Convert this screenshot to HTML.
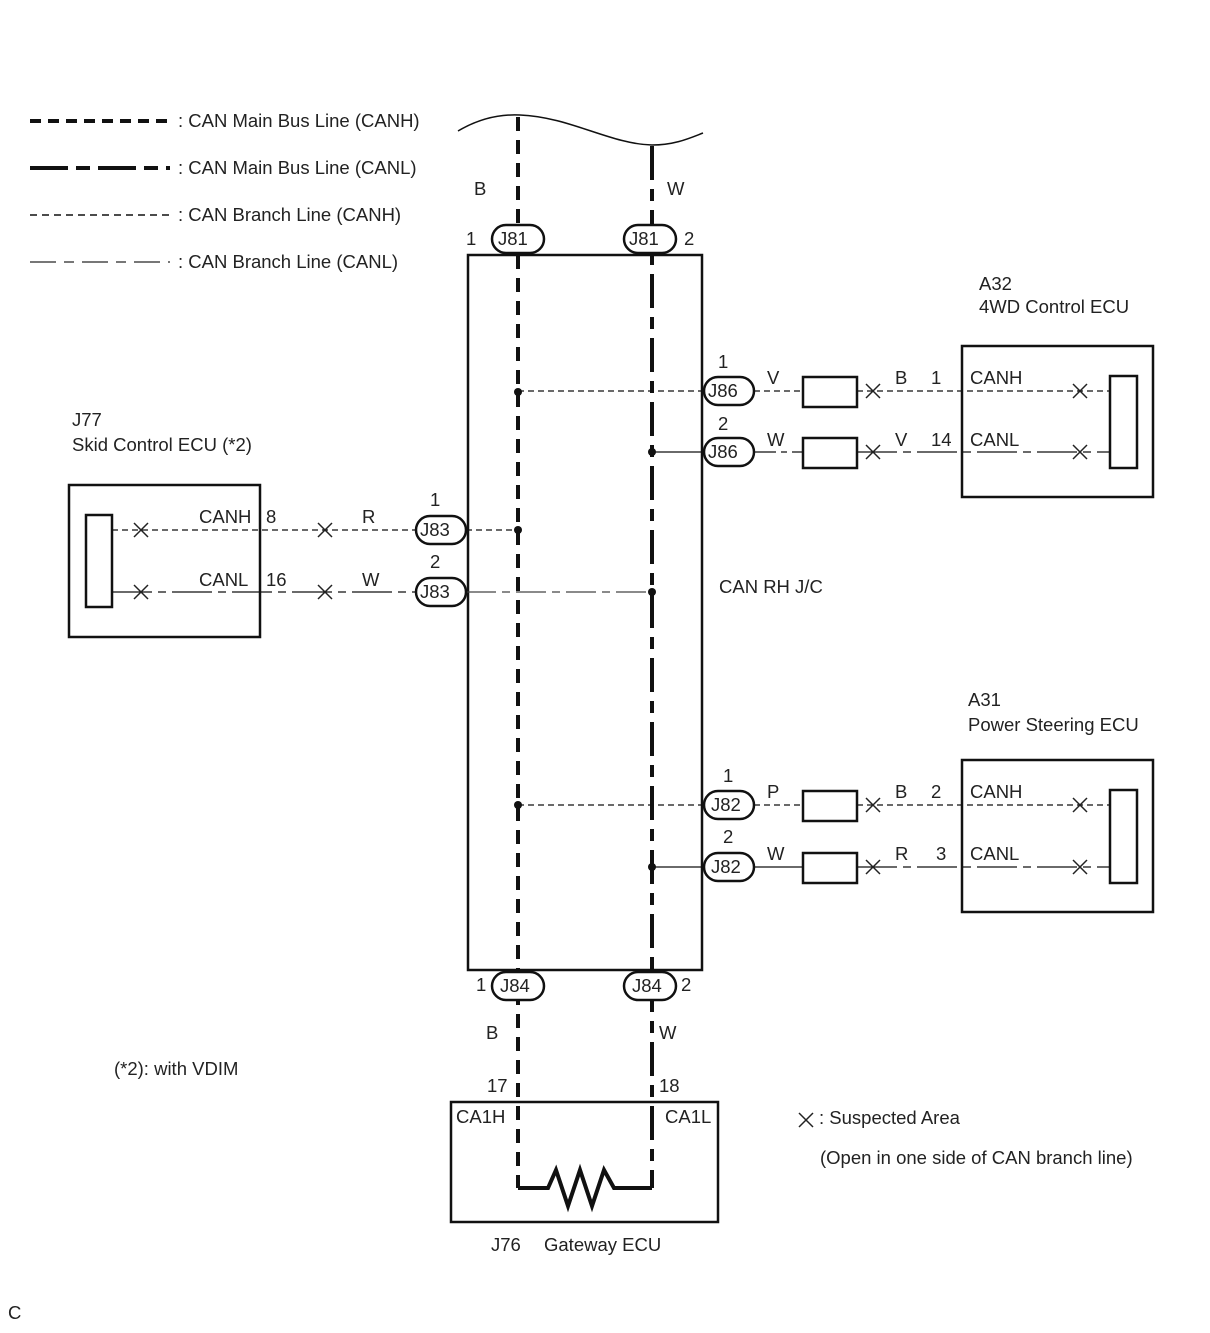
<!DOCTYPE html>
<html><head><meta charset="utf-8"><style>
html,body{margin:0;padding:0;background:#fff}
svg text{font-family:"Liberation Sans",Arial,sans-serif;font-size:18.5px;fill:#222}
</style></head><body>
<svg width="1210" height="1328" viewBox="0 0 1210 1328" xmlns="http://www.w3.org/2000/svg">
<defs>
<g id="x"><path d="M-7,-7L7,7M-7,7L7,-7" stroke="#222" stroke-width="1.5"/></g>
</defs>
<g stroke="#111" fill="none">
<line x1="30" y1="121" x2="170" y2="121" stroke-width="4" stroke-dasharray="11,7"/>
<line x1="30" y1="168" x2="170" y2="168" stroke-width="4" stroke-dasharray="38,8,14,8"/>
<line x1="30" y1="215" x2="170" y2="215" stroke-width="1.5" stroke-dasharray="7,5"/>
<line x1="30" y1="262" x2="170" y2="262" stroke-width="2" stroke="#777" stroke-dasharray="26,8,10,8"/>
<path d="M458,131 C480,118 500,114 520,115 C570,117 610,144 652,145 C675,145 690,138 703,133" stroke-width="1.5"/>
<line x1="518" y1="117" x2="518" y2="1188" stroke-width="4" stroke-dasharray="14,9"/>
<line x1="652" y1="146" x2="652" y2="1188" stroke-width="4" stroke-dasharray="34,9,12,9"/>
<rect x="468" y="255" width="234" height="715" stroke-width="2.5"/>
<line x1="518" y1="391" x2="704" y2="391" stroke-width="1.3" stroke-dasharray="6,4"/>
<line x1="652" y1="452" x2="704" y2="452" stroke-width="1.3"/>
<line x1="754" y1="391" x2="803" y2="391" stroke-width="1.3" stroke-dasharray="6,4"/>
<line x1="754" y1="452" x2="803" y2="452" stroke-width="1.3" stroke-dasharray="22,5,6,5"/>
<rect x="803" y="377" width="54" height="30" stroke-width="2.5"/>
<rect x="803" y="438" width="54" height="30" stroke-width="2.5"/>
<line x1="857" y1="391" x2="1110" y2="391" stroke-width="1.3" stroke-dasharray="6,4"/>
<line x1="857" y1="452" x2="1110" y2="452" stroke-width="1.3" stroke-dasharray="40,6,8,6"/>
<rect x="962" y="346" width="191" height="151" stroke-width="2.5"/>
<rect x="1110" y="376" width="27" height="92" stroke-width="2.5"/>
<line x1="518" y1="805" x2="704" y2="805" stroke-width="1.3" stroke-dasharray="6,4"/>
<line x1="652" y1="867" x2="704" y2="867" stroke-width="1.3"/>
<line x1="754" y1="805" x2="803" y2="805" stroke-width="1.3" stroke-dasharray="6,4"/>
<line x1="754" y1="867" x2="803" y2="867" stroke-width="1.3"/>
<rect x="803" y="791" width="54" height="30" stroke-width="2.5"/>
<rect x="803" y="853" width="54" height="30" stroke-width="2.5"/>
<line x1="857" y1="805" x2="1110" y2="805" stroke-width="1.3" stroke-dasharray="6,4"/>
<line x1="857" y1="867" x2="1110" y2="867" stroke-width="1.3" stroke-dasharray="40,6,8,6"/>
<rect x="962" y="760" width="191" height="152" stroke-width="2.5"/>
<rect x="1110" y="790" width="27" height="93" stroke-width="2.5"/>
<line x1="466" y1="530" x2="518" y2="530" stroke-width="1.3" stroke-dasharray="6,4"/>
<line x1="466" y1="592" x2="652" y2="592" stroke-width="1.3" stroke="#444" stroke-dasharray="30,6,8,6"/>
<line x1="112" y1="530" x2="416" y2="530" stroke-width="1.3" stroke-dasharray="6,4"/>
<line x1="112" y1="592" x2="416" y2="592" stroke-width="1.3" stroke-dasharray="40,6,8,6"/>
<rect x="69" y="485" width="191" height="152" stroke-width="2.5"/>
<rect x="86" y="515" width="26" height="92" stroke-width="2.5"/>
<rect x="492" y="225" width="52" height="28" rx="14" fill="#fff" stroke-width="2.5"/>
<rect x="624" y="225" width="52" height="28" rx="14" fill="#fff" stroke-width="2.5"/>
<rect x="704" y="377" width="50" height="28" rx="14" fill="#fff" stroke-width="2.5"/>
<rect x="704" y="438" width="50" height="28" rx="14" fill="#fff" stroke-width="2.5"/>
<rect x="704" y="791" width="50" height="28" rx="14" fill="#fff" stroke-width="2.5"/>
<rect x="704" y="853" width="50" height="28" rx="14" fill="#fff" stroke-width="2.5"/>
<rect x="416" y="516" width="50" height="28" rx="14" fill="#fff" stroke-width="2.5"/>
<rect x="416" y="578" width="50" height="28" rx="14" fill="#fff" stroke-width="2.5"/>
<rect x="492" y="972" width="52" height="28" rx="14" fill="#fff" stroke-width="2.5"/>
<rect x="624" y="972" width="52" height="28" rx="14" fill="#fff" stroke-width="2.5"/>
<rect x="451" y="1102" width="267" height="120" stroke-width="2.5"/>
<path d="M518,1188 L548,1188 L556,1170 L568,1206 L580,1170 L592,1206 L604,1170 L614,1188 L652,1188" stroke-width="4"/>
</g>
<g fill="#111">
<circle cx="518" cy="392" r="4"/><circle cx="652" cy="452" r="4"/>
<circle cx="518" cy="530" r="4"/><circle cx="652" cy="592" r="4"/>
<circle cx="518" cy="805" r="4"/><circle cx="652" cy="867" r="4"/>
</g>
<use href="#x" x="873" y="391"/><use href="#x" x="873" y="452"/>
<use href="#x" x="1080" y="391"/><use href="#x" x="1080" y="452"/>
<use href="#x" x="873" y="805"/><use href="#x" x="873" y="867"/>
<use href="#x" x="1080" y="805"/><use href="#x" x="1080" y="867"/>
<use href="#x" x="141" y="530"/><use href="#x" x="141" y="592"/>
<use href="#x" x="325" y="530"/><use href="#x" x="325" y="592"/>
<use href="#x" x="806" y="1120"/>
<text x="178" y="127">: CAN Main Bus Line (CANH)</text>
<text x="178" y="174">: CAN Main Bus Line (CANL)</text>
<text x="178" y="221">: CAN Branch Line (CANH)</text>
<text x="178" y="268">: CAN Branch Line (CANL)</text>
<text x="474" y="195">B</text><text x="667" y="195">W</text>
<text x="466" y="245">1</text><text x="684" y="245">2</text>
<text x="498" y="245">J81</text><text x="629" y="245">J81</text>
<text x="979" y="290">A32</text><text x="979" y="313">4WD Control ECU</text>
<text x="718" y="368">1</text><text x="718" y="430">2</text>
<text x="708" y="397">J86</text><text x="708" y="458">J86</text>
<text x="767" y="384">V</text><text x="895" y="384">B</text><text x="931" y="384">1</text><text x="970" y="384">CANH</text>
<text x="767" y="446">W</text><text x="895" y="446">V</text><text x="931" y="446">14</text><text x="970" y="446">CANL</text>
<text x="72" y="426">J77</text><text x="72" y="451">Skid Control ECU (*2)</text>
<text x="199" y="523">CANH</text><text x="266" y="523">8</text><text x="362" y="523">R</text>
<text x="199" y="586">CANL</text><text x="266" y="586">16</text><text x="362" y="586">W</text>
<text x="430" y="506">1</text><text x="430" y="568">2</text>
<text x="420" y="536">J83</text><text x="420" y="598">J83</text>
<text x="719" y="593">CAN RH J/C</text>
<text x="968" y="706">A31</text><text x="968" y="731">Power Steering ECU</text>
<text x="723" y="782">1</text><text x="723" y="843">2</text>
<text x="711" y="811">J82</text><text x="711" y="873">J82</text>
<text x="767" y="798">P</text><text x="895" y="798">B</text><text x="931" y="798">2</text><text x="970" y="798">CANH</text>
<text x="767" y="860">W</text><text x="895" y="860">R</text><text x="936" y="860">3</text><text x="970" y="860">CANL</text>
<text x="476" y="991">1</text><text x="681" y="991">2</text>
<text x="500" y="992">J84</text><text x="632" y="992">J84</text>
<text x="486" y="1039">B</text><text x="659" y="1039">W</text>
<text x="114" y="1075">(*2): with VDIM</text>
<text x="487" y="1092">17</text><text x="659" y="1092">18</text>
<text x="456" y="1123">CA1H</text><text x="665" y="1123">CA1L</text>
<text x="819" y="1124">: Suspected Area</text>
<text x="820" y="1164">(Open in one side of CAN branch line)</text>
<text x="491" y="1251">J76</text><text x="544" y="1251">Gateway ECU</text>
<text x="8" y="1319">C</text>
</svg>
</body></html>
